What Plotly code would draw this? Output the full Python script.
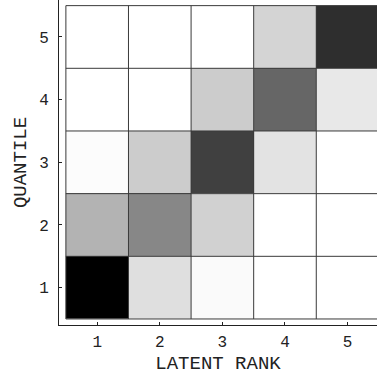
import plotly.graph_objects as go

latent_rank = [1, 2, 3, 4, 5]
quantile = [1, 2, 3, 4, 5]
x_tick_labels = ["1", "2", "3", "4", "5"]
y_tick_labels = ["1", "2", "3", "4", "5"]
# darkness (0 = white, 1 = black), rows = quantile 1..5, cols = latent rank 1..5
darkness = [
    [1.00, 0.125, 0.02, 0.00, 0.00],
    [0.30, 0.47, 0.18, 0.00, 0.00],
    [0.01, 0.20, 0.75, 0.11, 0.00],
    [0.00, 0.00, 0.20, 0.60, 0.09],
    [0.00, 0.00, 0.00, 0.17, 0.82],
]

FONT = "Liberation Mono"

fig = go.Figure()
fig.add_trace(go.Heatmap(
    x=latent_rank, y=quantile, z=darkness,
    colorscale=[[0, "#ffffff"], [1, "#000000"]], zmin=0, zmax=1,
    showscale=False, hoverinfo="skip",
))

# cell borders derived from category edges
xe = [c - 0.5 for c in latent_rank] + [latent_rank[-1] + 0.5]
ye = [c - 0.5 for c in quantile] + [quantile[-1] + 0.5]
gx, gy = [], []
for v in xe:
    gx += [v, v, None]
    gy += [ye[0], ye[-1], None]
for v in ye:
    gx += [xe[0], xe[-1], None]
    gy += [v, v, None]
fig.add_trace(go.Scatter(x=gx, y=gy, mode="lines",
                         line=dict(color="#3a3a3a", width=1),
                         hoverinfo="skip", showlegend=False))

axis_common = dict(
    showline=True, linecolor="#222222", linewidth=1, mirror=False,
    ticks="inside", ticklen=3, tickwidth=1, tickcolor="#222222",
    showgrid=False, zeroline=False, automargin=False,
    tickfont=dict(family=FONT, size=16, color="#222222"),
)
fig.update_layout(
    width=377, height=375,
    margin=dict(l=59, r=0, t=0, b=50),
    paper_bgcolor="white", plot_bgcolor="white",
    showlegend=False,
    xaxis=dict(range=[0.39, 5.47], tickvals=latent_rank, ticktext=x_tick_labels,
               title=dict(text="LATENT RANK", font=dict(family=FONT, size=19, color="#222222"), standoff=7),
               ticklabelstandoff=2,
               **axis_common),
    yaxis=dict(range=[0.404, 5.59], tickvals=quantile, ticktext=y_tick_labels,
               title=dict(text="QUANTILE", font=dict(family=FONT, size=19, color="#222222"), standoff=7),
               ticklabelstandoff=6,
               **axis_common),
)
fig.write_html("out.html", config={"displayModeBar": False},
               post_script="document.body.style.margin='0';")
